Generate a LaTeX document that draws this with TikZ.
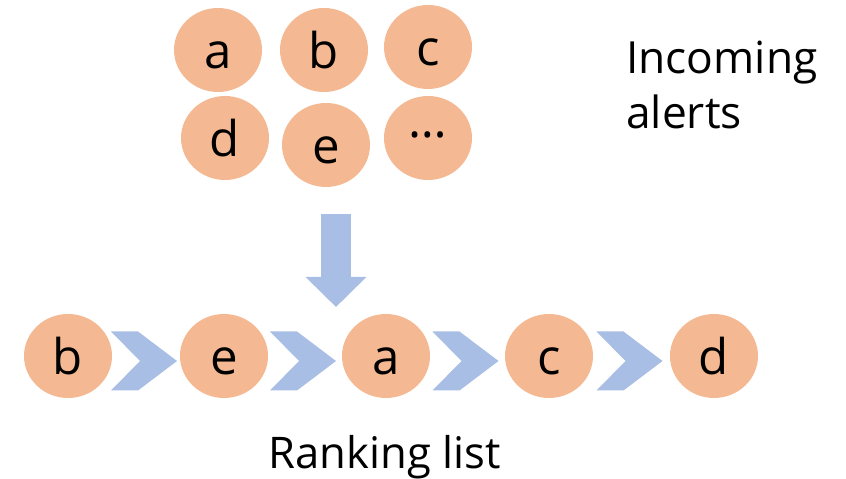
\documentclass[tikz,border=0pt]{standalone}
\usepackage{fontspec}
\setmainfont{Open Sans}
\usepackage{tikz}
\usetikzlibrary{shapes.geometric, arrows.meta, calc}
\definecolor{alertcolor}{RGB}{244,185,146}
\definecolor{flowcolor}{RGB}{168,190,228}

\begin{document}
\begin{tikzpicture}[
    alert/.style={ellipse, fill=alertcolor, minimum width=2.2cm, minimum height=2.1cm, inner sep=0pt, font=\fontsize{35}{35}\selectfont, text height=26pt, text depth=0pt},
    chevron/.style={fill=flowcolor},
    downarrow/.style={draw=flowcolor, line width=0.75cm, -{Triangle[length=0.75cm, width=1.475cm]}},
    caption/.style={font=\fontsize{31.5}{39.8}\selectfont, inner sep=0pt}
]
    \useasboundingbox (0,0) rectangle (21.15,11.975);

    % Incoming alerts
    \node[alert] (ina) at (5.45,10.725) {a};
    \node[alert] (inb) at (8.1,10.725) {b};
    \node[alert] (inc) at (10.7,10.8) {c};
    \node[alert] (ind) at (5.625,8.525) {d};
    \node[alert] (ine) at (8.15,8.35) {e};
    \node[alert] (inmore) at (10.7,8.525) {\raisebox{13pt}{…}};

    \node[caption, anchor=base west, align=left] (incap) at (15.65,8.75) {Incoming\\alerts};

    % Arrow down
    \coordinate (arrtop) at (8.4,6.625);
    \coordinate (arrtip) at (8.4,4.3);
    \draw[downarrow] (arrtop) -- (arrtip);

    % Ranking list
    \node[alert] (r1) at (1.7,3.075) {b};
    \node[alert] (r2) at (5.6,3.075) {e};
    \node[alert] (r3) at (9.65,3.075) {a};
    \node[alert] (r4) at (13.725,3.075) {c};
    \node[alert] (r5) at (17.85,3.075) {d};

    % Chevrons between ranks
    \foreach \a/\b in {r1/r2, r2/r3, r3/r4, r4/r5} {
        \fill[chevron] ($(\a.east)!0.5!(\b.west)+(-0.05,-0.125)$) ++(-0.825,0.7375) -- ++(0.675,0) -- ++(0.975,-0.7375) -- ++(-0.975,-0.7375) -- ++(-0.675,0) -- ++(0.725,0.7375) -- cycle;
    }

    \node[caption, font=\fontsize{31}{31}\selectfont, anchor=base] (rankcap) at (9.6125,0.25) {Ranking list};
\end{tikzpicture}
\end{document}
